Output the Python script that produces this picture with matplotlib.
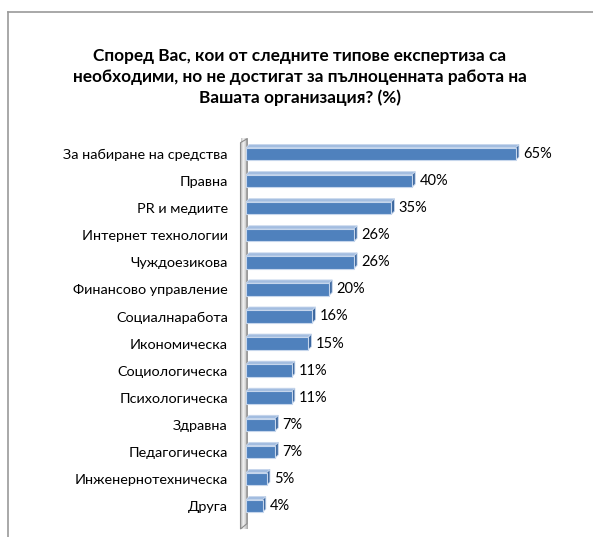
import matplotlib
matplotlib.use("Agg")
import matplotlib.pyplot as plt
import numpy as np
from matplotlib.patches import Polygon
from matplotlib.lines import Line2D

categories = ["За набиране на средства", "Правна", "PR и медиите", "Интернет технологии",
              "Чуждоезикова", "Финансово управление", "Социалнаработа", "Икономическа",
              "Социологическа", "Психологическа", "Здравна", "Педагогическа",
              "Инженернотехническа", "Друга"]
values = [65, 40, 35, 26, 26, 20, 16, 15, 11, 11, 7, 7, 5, 4]
value_labels = ["65%", "40%", "35%", "26%", "26%", "20%", "16%", "15%", "11%", "11%",
                "7%", "7%", "5%", "4%"]
title = ("Според Вас, кои от следните типове експертиза са\n"
         "необходими, но не достигат за пълноценната работа на\n"
         "Вашата организация? (%)")

plt.rcParams['font.family'] = ['Lato', 'DejaVu Sans']

W, H = 593, 537
fig = plt.figure(figsize=(W / 100, H / 100), dpi=100)

# axes geometry in pixels
x0_px = 246
px_per_unit = 4.15
ax_right_px = 560
n = len(categories)
top_c, bot_c = 154, 506
pitch = (bot_c - top_c) / (n - 1)
ax_top_px = top_c - pitch / 2
ax_bot_px = bot_c + pitch / 2
ax = fig.add_axes([x0_px / W, 1 - ax_bot_px / H, (ax_right_px - x0_px) / W,
                   (ax_bot_px - ax_top_px) / H])
for s in ax.spines.values():
    s.set_visible(False)
ax.set_xticks([])
ax.set_yticks(range(n))
ax.set_yticklabels(categories, fontsize=10.4, color='#000000')
ax.tick_params(axis='y', length=0, pad=13)
ax.patch.set_alpha(0)

bh = 12.5 / pitch
dx = 3.2 / px_per_unit
dy = 3.2 / pitch

front_col = '#4f81bd'
top_col = '#a3bde0'
side_col = '#3c679f'
edge_col = '#c6d6ec'

# wall
wl = -5.5 / px_per_unit
wr = 1.0 / px_per_unit
wall_top_l = -0.5 + 0.08
wall_top_r = -0.5 - 0.06
wall_bot_l = n - 0.5 + 0.35
wall_bot_r = n - 0.5 + 0.15
wall = Polygon([(wl, wall_top_l), (wr, wall_top_r), (wr, wall_bot_r), (wl, wall_bot_l)],
               closed=True, facecolor='none', edgecolor='#8c8c8c', lw=0.8, clip_on=False, zorder=2)
grad = np.linspace(0, 1, 50).reshape(1, -1)
cm = matplotlib.colors.LinearSegmentedColormap.from_list('w', ['#bfbfbf', '#f4f4f4', '#d0d0d0', '#a6a6a6'])
im = ax.imshow(grad, cmap=cm, extent=(wl, wr, wall_bot_l, wall_top_r), aspect='auto',
               zorder=1, clip_on=False)
wall_clip = Polygon([(wl, wall_top_l), (wr, wall_top_r), (wr, wall_bot_r), (wl, wall_bot_l)],
                    closed=True, transform=ax.transData)
im.set_clip_path(wall_clip)
ax.add_patch(wall)
ax.set_xlim(0, (ax_right_px - x0_px) / px_per_unit)
ax.set_ylim(n - 0.5, -0.5)

ax.barh(range(n), values, height=bh, color=front_col, edgecolor=edge_col,
        linewidth=0.8, zorder=4)
for i, v in enumerate(values):
    yt = i - bh / 2
    yb = i + bh / 2
    topf = Polygon([(0, yt), (v, yt), (v + dx, yt - dy), (dx, yt - dy)], closed=True,
                   facecolor=top_col, edgecolor=edge_col, lw=0.6, zorder=3)
    side = Polygon([(v, yt), (v + dx, yt - dy), (v + dx, yb - dy), (v, yb)], closed=True,
                   facecolor=side_col, edgecolor=edge_col, lw=0.6, zorder=3)
    ax.add_patch(topf)
    ax.add_patch(side)
    ax.annotate(value_labels[i], xy=(v + dx, i), xytext=(3.0, 0), textcoords='offset points',
                ha='left', va='center', fontsize=10.5, color='#000000')

fig.text(300 / W, 1 - 77 / H, title, ha='center', va='center', fontsize=12.4,
         fontweight='bold', linespacing=1.38, color='#000000')

# outer frame (cropped)
fig.add_artist(Line2D([8 / W, 8 / W], [0, 1 - 12 / H], color='#9a9a9a', lw=1.2))
fig.add_artist(Line2D([8 / W, 1], [1 - 12 / H, 1 - 12 / H], color='#9a9a9a', lw=1.2))

fig.savefig('out.png', dpi=100)
